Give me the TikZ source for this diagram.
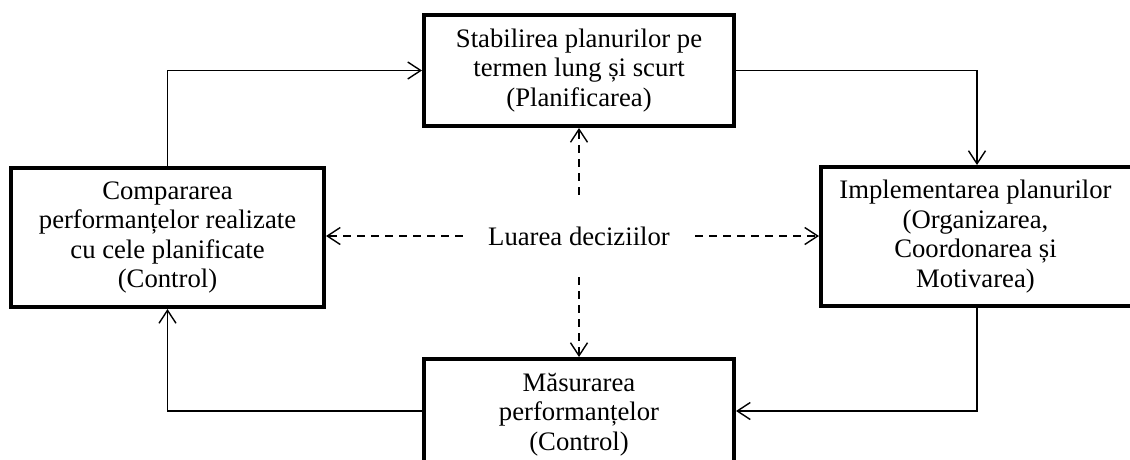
\documentclass[tikz,border=0pt]{standalone}
\usepackage{fontspec}
\setmainfont{Liberation Serif}
\usetikzlibrary{arrows.meta}
\begin{document}
\begin{tikzpicture}[x=1pt,y=-1pt,
  txt/.style={align=center, inner sep=0pt, font=\fontsize{26.7}{29.5}\selectfont},
  box/.style={txt, draw, line width=4pt},
  conn/.style={line width=1.4pt, -{Straight Barb[length=13pt,width=17pt,line width=1.4pt]}},
  dconn/.style={conn, dash pattern=on 8pt off 6pt}]
\useasboundingbox (0,0) rectangle (1130,459);
\clip (0,0) rectangle (1130,459);

% the four stages of the management cycle
\node[box, minimum width=310pt, minimum height=111pt] (plan) at (579,70.5)
  {Stabilirea planurilor pe\\termen lung și scurt\\(Planificarea)};
\node[box, minimum width=330pt, minimum height=139pt] (impl) at (986,236.5) {};
\node[txt] (impltxt) at (975.5,236.5)
  {Implementarea planurilor\\(Organizarea,\\Coordonarea și\\Motivarea)};
\node[box, minimum width=310pt, minimum height=111pt] (masur) at (579,414.5)
  {Măsurarea\\performanțelor\\(Control)};
\node[box, minimum width=313pt, minimum height=139pt] (comp) at (167.5,237.5)
  {Compararea\\performanțelor realizate\\cu cele planificate\\(Control)};

% decision making in the centre
\node[txt, minimum width=232pt, minimum height=82pt] (dec) at (579,236) {Luarea deciziilor};

% routing helpers for the cycle
\coordinate (rtx) at (977,0);
\coordinate (lowy) at (0,411);

% cycle connectors
\draw[conn] (comp.north) |- (plan.west);
\draw[conn] (plan.east) -| (rtx |- impl.north);
\draw[conn] (rtx |- impl.south) |- (masur.east |- lowy);
\draw[conn] (masur.west |- lowy) -| (comp.south);

% dashed links from the decision node
\draw[dconn] (dec.north) -- (dec.north |- plan.south);
\draw[dconn] (dec.south) -- (dec.south |- masur.north);
\draw[dconn] (dec.west) -- (dec.west -| comp.east);
\draw[dconn] (dec.east) -- (dec.east -| impl.west);
\end{tikzpicture}
\end{document}
